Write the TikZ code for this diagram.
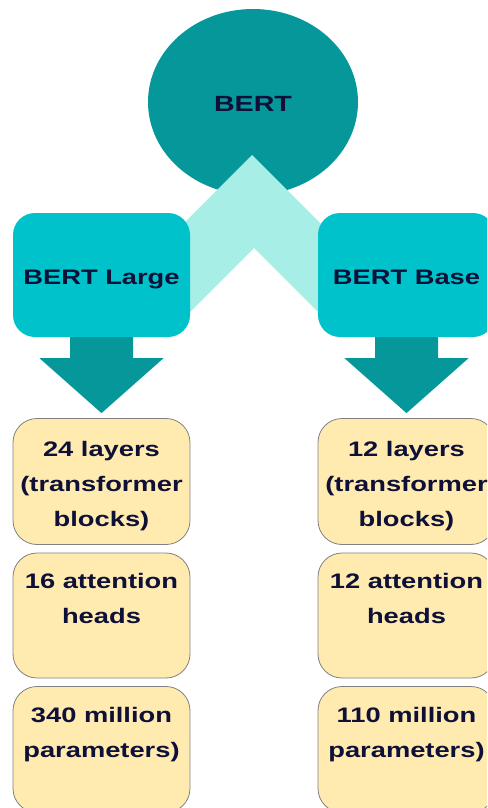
\documentclass[tikz,border=0pt]{standalone}
\usepackage{fontspec}
\newfontfamily\bertfont{Liberation Sans}[FakeStretch=1.3]
\usetikzlibrary{positioning, calc, shapes.geometric}
\definecolor{bertdark}{HTML}{06979B}
\definecolor{bertcyan}{HTML}{00C2CB}
\definecolor{bertlight}{HTML}{A6EEE6}
\definecolor{specyellow}{HTML}{FFEBB0}
\definecolor{textnavy}{HTML}{0E1038}

\begin{document}
\begin{tikzpicture}[x=1pt, y=-1pt,
    every node/.style={font=\bertfont\bfseries\fontsize{21}{35}\selectfont, text=textnavy},
    variant/.style={fill=bertcyan, rounded corners=22pt, minimum width=177pt, minimum height=124pt, inner sep=0pt,
                    text height=23pt, text depth=4.5pt},
    spec/.style={fill=specyellow, draw=gray, line width=0.8pt, rounded corners=24pt, minimum width=177pt, minimum height=126pt, align=center, inner sep=0pt}]
        \useasboundingbox (0,0) rectangle (487,808);
        \clip (0,0) rectangle (487,808);
        % Root model
        \node[ellipse, fill=bertdark, minimum width=210pt, minimum height=186pt, inner sep=0pt,
              text height=19pt, text depth=0pt,
              font=\bertfont\bfseries\fontsize{22}{26}\selectfont] (bert) at (253,102) {BERT};
        % Chevron splitting into the two variants
        \fill[bertlight] (252,155) -- (336,239) -- (336,330) -- (254,248) -- (170,332) -- (170,237) -- cycle;
        % The two variants
        \node[variant] (large) at (101.5,275) {BERT Large};
        \node[variant] (base) at (406.5,275) {BERT Base};
        % Specs: layers, heads, parameters
        \foreach \x/\c/\nl/\nh/\np in {101.5/l/24/16/340, 406.5/b/12/12/110} {
          \node[spec] (\c1) at (\x,481.5) {\rule{0pt}{24pt}\nl{} layers\\(transformer\\blocks)};
          \node[spec, minimum height=125pt] (\c2) at (\x,615.5) {\nh{} attention\\heads\\~};
          \node[spec] (\c3) at (\x,749.5) {\np{} million\\parameters)\\~};
        }
        % Down arrows from variant to its specs
        \foreach \v/\s in {large/l1, base/b1} {
          \fill[bertdark] ($(\v.south)+(-31.5,0)$) -- ++(0,21) -- ++(-30.5,0) -- ($(\s.north)+(0,-5)$)
            -- ($(\v.south)+(62,21)$) -- ++(-30.5,0) -- ($(\v.south)+(31.5,0)$) -- cycle;
        }
\end{tikzpicture}
\end{document}
